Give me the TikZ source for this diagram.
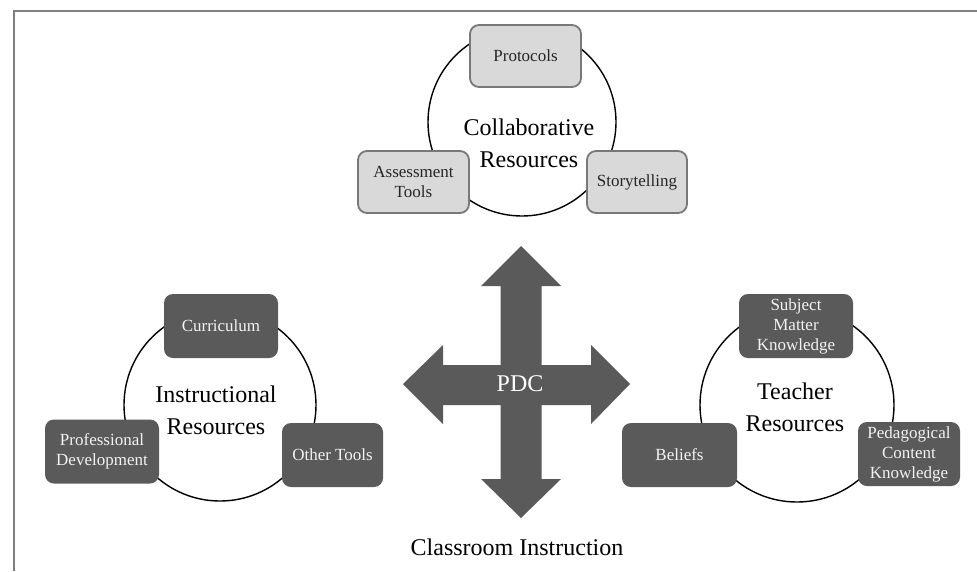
\documentclass[tikz,border=0pt]{standalone}
\usepackage{fontspec}
\setmainfont{Liberation Serif}

\definecolor{darkfill}{HTML}{5A5A5A}
\definecolor{lightfill}{HTML}{D9D9D9}
\definecolor{boxedge}{HTML}{787878}
\definecolor{frameline}{HTML}{808080}

\tikzset{
  ring/.style={draw, circle, line width=1.4pt, minimum size=#1, inner sep=0pt},
  lightbox/.style={draw=boxedge, fill=lightfill, line width=1.8pt, rounded corners=9pt,
    minimum width=#1, minimum height=62pt, inner sep=2pt, align=center,
    text=black!85, font=\fontsize{17}{20}\selectfont},
  darkbox/.style={fill=darkfill, rounded corners=9pt, minimum width=#1, minimum height=64pt,
    inner sep=2pt, align=center, text=white!95!black, font=\fontsize{17}{20}\selectfont},
  bigtext/.style={align=center, inner sep=0pt, font=\fontsize{24}{32}\selectfont},
}

\begin{document}
\begin{tikzpicture}[x=1pt,y=-1pt]
    \useasboundingbox (0,0) rectangle (977,571);

    % ramecek
    \draw[frameline, line width=2pt] (14,571) -- (14,11) -- (977,11);

    % spolupracujici zdroje
    \node[ring=188pt] (colring) at (522,122) {};
    \node[bigtext] (colname) at (529,143) {Collaborative\\Resources};
    \node[lightbox=111pt] (protocols) at (525.5,56) {Protocols};
    \node[lightbox=111pt] (assess) at (413.5,182) {Assessment\\Tools};
    \node[lightbox=100pt] (story) at (637,182) {Storytelling};

    % vyukove zdroje
    \node[ring=192pt] (insring) at (220,405) {};
    \node[bigtext] (insname) at (216,410) {Instructional\\Resources};
    \node[darkbox=114pt] (curric) at (221,326) {Curriculum};
    \node[darkbox=114pt] (profdev) at (102,451.5) {Professional\\Development};
    \node[darkbox=101pt] (othertools) at (332.5,455) {Other Tools};

    % zdroje ucitele
    \node[ring=194pt] (teachring) at (797,405) {};
    \node[bigtext] (teachname) at (795,407) {Teacher\\Resources};
    \node[darkbox=114pt] (smk) at (796,326) {Subject\\Matter\\Knowledge};
    \node[darkbox=115pt] (beliefs) at (679.5,455) {Beliefs};
    \node[darkbox=102pt] (pck) at (909,454) {Pedagogical\\Content\\Knowledge};

    % krizova sipka PDC
    \fill[darkfill]
    (521,246) -- (561,286) -- (541.5,286) -- (541.5,365) -- (591,365) -- (591,345)
    -- (630,384) -- (591,424) -- (591,405) -- (541.5,405) -- (541.5,479) -- (561,479)
    -- (521,518) -- (481,479) -- (500.5,479) -- (500.5,405) -- (443,405) -- (443,424)
    -- (403,384) -- (443,345) -- (443,365) -- (500.5,365) -- (500.5,286) -- (481,286) -- cycle;
    \node[bigtext, text=white] (pdc) at (520,384) {PDC};

    % vyuka ve tride
    \node[bigtext] (classroom) at (517,547) {Classroom Instruction};
\end{tikzpicture}
\end{document}
